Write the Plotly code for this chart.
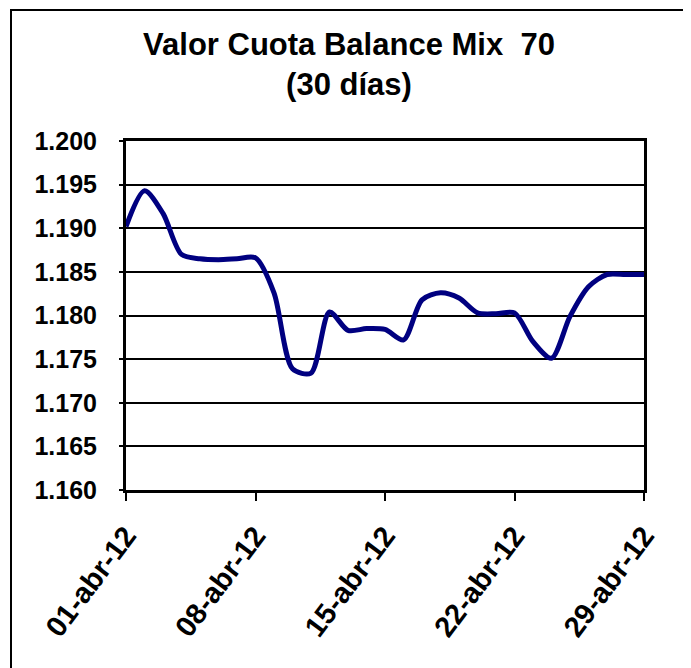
import plotly.graph_objects as go

# ---- data ----
dates = [f"2012-04-{d:02d}" for d in range(1, 30)]
valor_cuota = [
    1.1902, 1.1943, 1.1917, 1.1870, 1.1865, 1.1864, 1.1865, 1.1866, 1.1826, 1.1739,
    1.1734, 1.1804, 1.1783, 1.1785, 1.1784, 1.1772, 1.1818, 1.1826, 1.1820, 1.1803,
    1.1802, 1.1803, 1.1770, 1.1751, 1.1799, 1.1833, 1.1847, 1.1847, 1.1847,
]
x_tick_vals = ["2012-04-01", "2012-04-08", "2012-04-15", "2012-04-22", "2012-04-29"]
x_tick_text = ["01-abr-12", "08-abr-12", "15-abr-12", "22-abr-12", "29-abr-12"]
y_tick_vals = [1.160, 1.165, 1.170, 1.175, 1.180, 1.185, 1.190, 1.195, 1.200]
y_tick_text = ["1.160", "1.165", "1.170", "1.175", "1.180", "1.185", "1.190", "1.195", "1.200"]
title_text = "Valor Cuota Balance Mix  70<br>(30 días)"

# page body has an 8px default margin, so the figure is drawn 8px in
OFF = 8
W, H = 691 - OFF, 668 - OFF
L, R, T, B = 126 - OFF, 47, 141 - OFF, 178
pw, ph = W - L - R, H - T - B

FONT = "Liberation Sans, Arial, sans-serif"

fig = go.Figure()
fig.add_trace(go.Scatter(
    x=dates, y=valor_cuota, mode="lines",
    line=dict(color="#000080", width=5, shape="spline", smoothing=0.8),
    hoverinfo="x+y", showlegend=False,
))

# outer chart border (page pixel -> paper conversion)
def px_x(p):
    return (p - OFF - L) / pw

def px_y(p):
    return (H - B - (p - OFF)) / ph

fig.add_shape(type="rect", xref="paper", yref="paper",
              x0=px_x(11), x1=px_x(688), y0=px_y(690), y1=px_y(10),
              line=dict(color="black", width=2), fillcolor="rgba(0,0,0,0)", layer="below")

fig.update_layout(
    width=W, height=H,
    margin=dict(l=L, r=R, t=T, b=B),
    paper_bgcolor="white", plot_bgcolor="white",
    title=dict(text=title_text, x=(349 - OFF) / W, xanchor="center",
               y=1 - (55 - OFF) / H, yanchor="middle",
               font=dict(family=FONT, size=31, color="black", weight="bold")),
    font=dict(family=FONT, color="black"),
    xaxis=dict(
        type="date", range=["2012-04-01", "2012-04-29"],
        tickmode="array", tickvals=x_tick_vals, ticktext=x_tick_text,
        tickangle=-53, tickfont=dict(family=FONT, size=29, weight="bold", color="black"),
        ticks="outside", ticklen=8, tickwidth=2, tickcolor="black",
        ticklabelstandoff=6,
        showline=True, linecolor="black", linewidth=3, mirror=True,
        showgrid=False, zeroline=False,
    ),
    yaxis=dict(
        range=[1.160, 1.200],
        tickmode="array", tickvals=y_tick_vals, ticktext=y_tick_text,
        tickfont=dict(family=FONT, size=25, weight="bold", color="black"),
        ticks="outside", ticklen=4, tickwidth=2, tickcolor="black",
        ticklabelstandoff=17,
        showline=True, linecolor="black", linewidth=3, mirror=True,
        showgrid=True, gridcolor="black", gridwidth=2, zeroline=False,
    ),
)

fig.write_html("out.html")
